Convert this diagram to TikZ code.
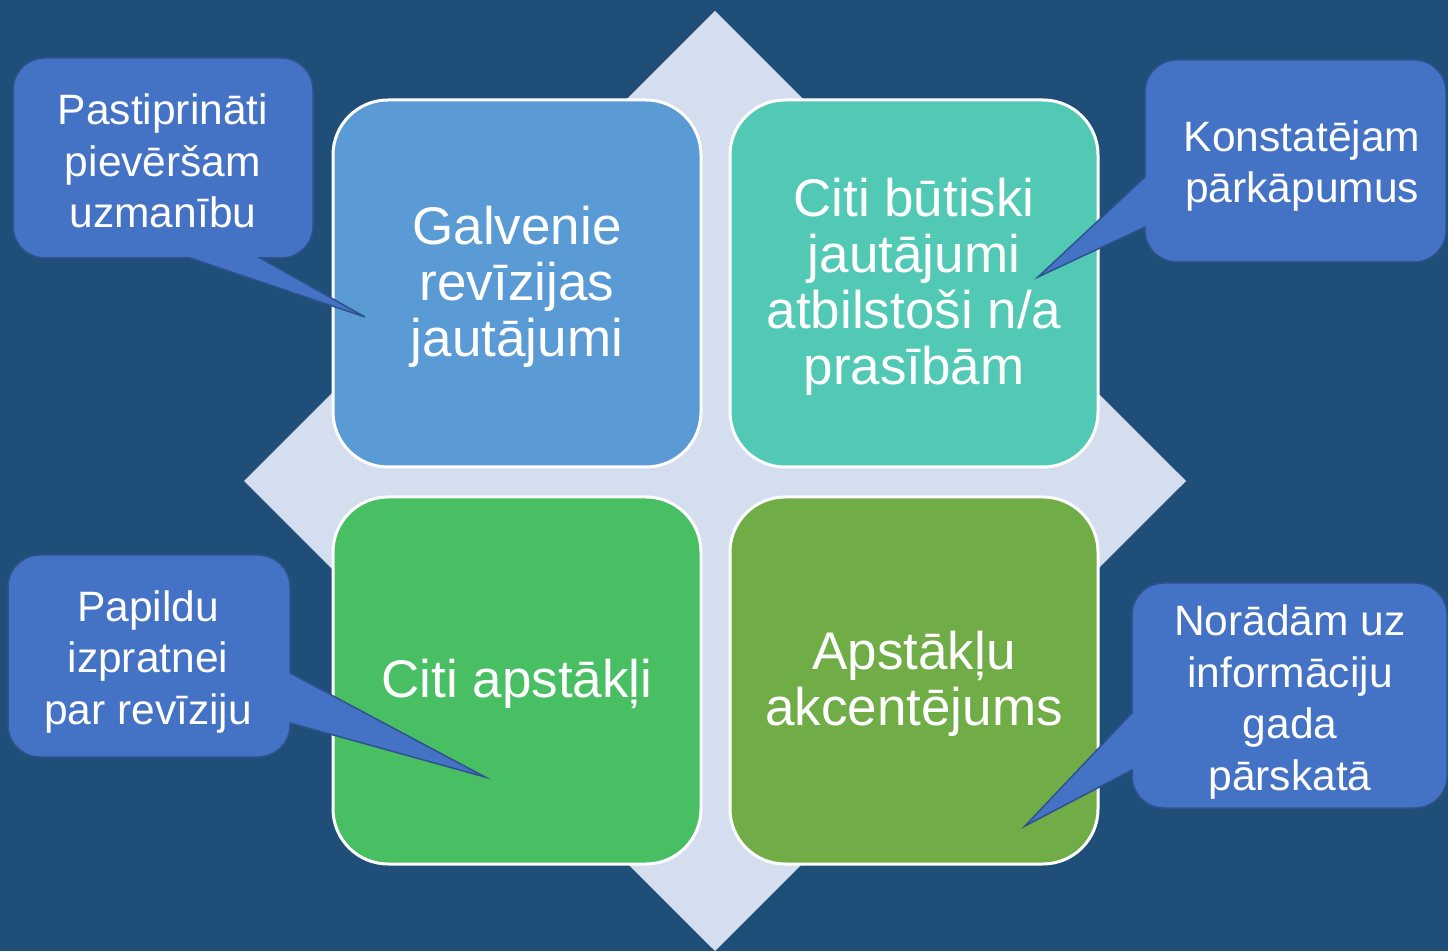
\documentclass[tikz,border=0pt]{standalone}
\usepackage{fontspec}
\setmainfont{Liberation Sans}
\definecolor{bgc}{HTML}{1F4E79}
\definecolor{diam}{HTML}{D4DEEF}
\definecolor{boxA}{HTML}{5B9BD5}
\definecolor{boxB}{HTML}{52C9B5}
\definecolor{boxC}{HTML}{48BF63}
\definecolor{boxD}{HTML}{70AD47}
\definecolor{callf}{HTML}{4472C4}
\definecolor{calld}{HTML}{2F528F}
\begin{document}
\begin{tikzpicture}[x=1pt,y=1pt,
  quad/.style={draw=white,line width=3pt,rounded corners=55pt},
  qtext/.style={text=white,align=center,font=\fontsize{53}{56}\selectfont},
  callout/.style={fill=callf,draw=calld,line width=1.5pt,line join=miter},
  ctext/.style={text=white,align=center,font=\fontsize{42.5}{51.5}\selectfont}]
\fill[bgc] (0,0) rectangle (1448,951);
\useasboundingbox (0,0) rectangle (1448,951);
% diamond
\coordinate (dt) at (715,940);
\coordinate (dr) at (1186,470);
\coordinate (db) at (715,0);
\coordinate (dl) at (244,470);
\fill[diam] (dt) -- (dr) -- (db) -- (dl) -- cycle;
% quadrant boxes
\draw[quad,fill=boxA] (333,484) rectangle (701,851);
\draw[quad,fill=boxB] (730,484) rectangle (1098,851);
\draw[quad,fill=boxC] (333,87) rectangle (701,454);
\draw[quad,fill=boxD] (730,87) rectangle (1098,454);
\node[qtext] (qa) at (517,664) {Galvenie\\revīzijas\\jautājumi};
\node[qtext] (qb) at (914,664) {Citi būtiski\\jautājumi\\atbilstoši n/a\\prasībām};
\node[qtext] (qc) at (517,267.5) {Citi apstākļi};
\node[qtext] (qd) at (914,267) {Apstākļu\\akcentējums};
% callouts
\coordinate (tipA) at (365,634);
\coordinate (tipB) at (1038,674);
\coordinate (tipC) at (485,174);
\coordinate (tipD) at (1025,125);
\draw[callout] (45,893) -- (281,893) arc[start angle=90,end angle=0,radius=32]
  -- (313,725) arc[start angle=0,end angle=-90,radius=32]
  -- (260,693) -- (tipA) -- (190,693)
  -- (45,693) arc[start angle=270,end angle=180,radius=32]
  -- (13,861) arc[start angle=180,end angle=90,radius=32] -- cycle;
\draw[callout] (1177,891) -- (1414,891) arc[start angle=90,end angle=0,radius=32]
  -- (1446,721) arc[start angle=0,end angle=-90,radius=32]
  -- (1177,689) arc[start angle=270,end angle=180,radius=32]
  -- (1145,724) -- (tipB) -- (1145,774)
  -- (1145,859) arc[start angle=180,end angle=90,radius=32] -- cycle;
\draw[callout] (40,396) -- (258,396) arc[start angle=90,end angle=0,radius=32]
  -- (290,278) -- (tipC) -- (290,228)
  -- (290,226) arc[start angle=0,end angle=-90,radius=32]
  -- (40,194) arc[start angle=270,end angle=180,radius=32]
  -- (8,364) arc[start angle=180,end angle=90,radius=32] -- cycle;
\draw[callout] (1164,368) -- (1415,368) arc[start angle=90,end angle=0,radius=32]
  -- (1447,175) arc[start angle=0,end angle=-90,radius=32]
  -- (1164,143) arc[start angle=270,end angle=180,radius=32]
  -- (1132,181) -- (tipD) -- (1132,238)
  -- (1132,336) arc[start angle=180,end angle=90,radius=32] -- cycle;
\node[ctext] (ca) at (163,790) {Pastiprināti\\pievēršam\\uzmanību};
\node[ctext] (cb) at (1302,785) {Konstatējam\\pārkāpumus};
\node[ctext] (cc) at (148,289) {Papildu\\izpratnei\\par revīziju};
\node[ctext] (cd) at (1290,249) {Norādām uz\\informāciju\\gada\\pārskatā};
\end{tikzpicture}
\end{document}
